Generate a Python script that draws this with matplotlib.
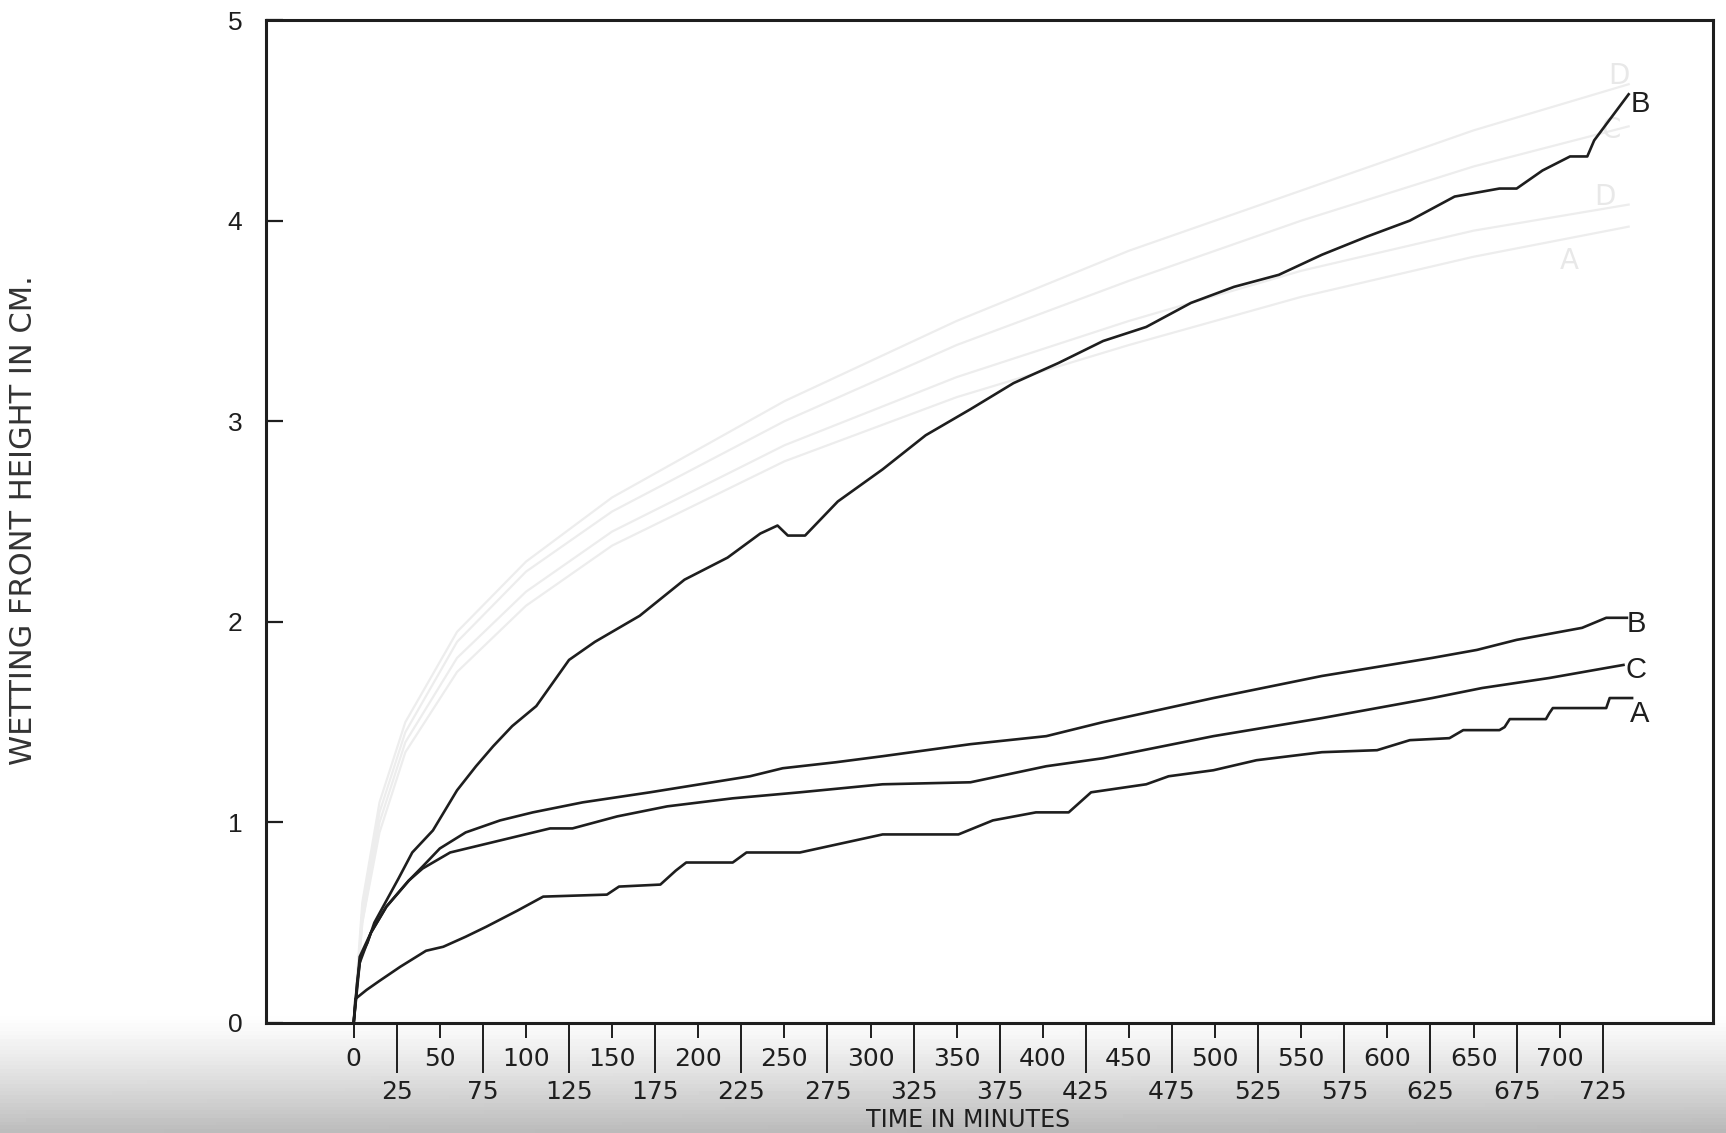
import numpy as np
import matplotlib
matplotlib.use("Agg")
import matplotlib.pyplot as plt

# curve values (time in minutes, height in cm)
t_b_top = [0, 2, 4, 8, 12, 19, 26, 34, 46, 60, 71, 81, 92, 106, 125, 140, 166, 192,
           217, 236, 246, 252, 262, 281, 307, 332, 358, 383, 409, 435, 460, 486, 511,
           537, 562, 588, 613, 639, 665, 675, 690, 706, 716, 720, 740]
y_b_top = [0, 0.2, 0.33, 0.4, 0.5, 0.61, 0.72, 0.85, 0.96, 1.16, 1.28, 1.38, 1.48, 1.58,
           1.81, 1.90, 2.03, 2.21, 2.32, 2.44, 2.48, 2.43, 2.43, 2.60, 2.76, 2.93, 3.06,
           3.19, 3.29, 3.40, 3.47, 3.59, 3.67, 3.73, 3.83, 3.92, 4.00, 4.12, 4.16, 4.16,
           4.25, 4.32, 4.32, 4.40, 4.63]

t_b = [0, 3.5, 10, 19, 32, 40, 50, 65, 85, 104, 133, 172, 201, 230, 249, 280, 307,
       358, 402, 435, 499, 562, 626, 652, 675, 713, 727, 739]
y_b = [0, 0.33, 0.45, 0.58, 0.71, 0.78, 0.87, 0.95, 1.01, 1.05, 1.10, 1.15, 1.19, 1.23,
       1.27, 1.30, 1.33, 1.39, 1.43, 1.50, 1.62, 1.73, 1.82, 1.86, 1.91, 1.97, 2.02, 2.02]

t_c = [0, 3.5, 10, 19, 32, 40, 56, 85, 114, 127, 153, 182, 220, 259, 307, 358, 402,
       435, 499, 562, 626, 655, 694, 727, 737]
y_c = [0, 0.30, 0.45, 0.58, 0.71, 0.77, 0.85, 0.91, 0.97, 0.97, 1.03, 1.08, 1.12, 1.15,
       1.19, 1.20, 1.28, 1.32, 1.43, 1.52, 1.62, 1.67, 1.72, 1.77, 1.785]

t_a = [0, 1, 7.5, 15, 27, 42, 52, 65, 77, 95, 110, 147, 154, 178, 187, 193, 220, 228,
       259, 307, 351, 371, 396, 415, 428, 460, 473, 499, 524, 562, 594, 613, 636, 644,
       665, 668, 671, 692, 694, 696, 727, 729, 742]
y_a = [0, 0.12, 0.165, 0.21, 0.28, 0.36, 0.38, 0.43, 0.48, 0.56, 0.63, 0.64, 0.68, 0.69,
       0.76, 0.80, 0.80, 0.85, 0.85, 0.94, 0.94, 1.01, 1.05, 1.05, 1.15, 1.19, 1.23, 1.26,
       1.31, 1.35, 1.36, 1.41, 1.42, 1.46, 1.46, 1.475, 1.515, 1.515, 1.545, 1.57, 1.57,
       1.62, 1.62]

# faint curves showing through from the back of the page
t_ghost = [0, 5, 15, 30, 60, 100, 150, 250, 350, 450, 550, 650, 740]
y_ghost_d = [0, 0.6, 1.1, 1.5, 1.95, 2.3, 2.62, 3.1, 3.5, 3.85, 4.15, 4.45, 4.68]
y_ghost_c = [0, 0.55, 1.05, 1.45, 1.9, 2.25, 2.55, 3.0, 3.38, 3.7, 4.0, 4.27, 4.47]
y_ghost_b = [0, 0.5, 1.0, 1.4, 1.82, 2.15, 2.45, 2.88, 3.22, 3.5, 3.75, 3.95, 4.08]
y_ghost_a = [0, 0.5, 0.95, 1.35, 1.75, 2.08, 2.38, 2.8, 3.12, 3.38, 3.62, 3.82, 3.97]

major_x = list(range(0, 701, 50))
minor_x = list(range(25, 726, 50))
y_ticks = [0, 1, 2, 3, 4, 5]

ink = "#1e1e1e"
narrow = ["Liberation Sans Narrow", "DejaVu Sans"]

fig = plt.figure(figsize=(17.26, 11.33), dpi=100)

# scanned-page shading at the bottom
bg = fig.add_axes([0, 0, 1, 1], zorder=-5)
rows = np.linspace(0, 1133, 300)
shade = np.ones_like(rows)
m = rows > 1015
shade[m] = 1 - 0.26 * ((rows[m] - 1015) / 118) ** 1.2
cols = np.linspace(1, 0.93, 200)
img = 1 - np.outer(1 - shade, 2 - cols)
bg.imshow(img, cmap="gray", vmin=0, vmax=1, aspect="auto", extent=[0, 1, 0, 1])
bg.set_axis_off()

ax = fig.add_axes([0.154, 0.0971, 0.8385, 0.8852])
ax.set_facecolor("none")
ax.set_xlim(-51, 789)
ax.set_ylim(0, 5)

for yy, lab, x_lab, y_lab in [(y_ghost_d, "D", 728, 4.72), (y_ghost_c, "C", 724, 4.45),
                              (y_ghost_b, "D", 720, 4.12), (y_ghost_a, "A", 700, 3.8)]:
    ax.plot(t_ghost, yy, color="#ededed", lw=1.6, zorder=1)
    ax.text(x_lab, y_lab, lab, color="#e8e8e8", fontsize=20, ha="left", va="center")

for tt, yy in [(t_b_top, y_b_top), (t_b, y_b), (t_c, y_c), (t_a, y_a)]:
    ax.plot(tt, yy, color=ink, lw=1.9, zorder=3)

lab_font = dict(fontsize=21, color=ink, family="Liberation Sans", va="center", ha="left")
ax.text(741, 4.58, "B", **lab_font)
ax.text(739, 1.99, "B", **lab_font)
ax.text(738, 1.76, "C", **lab_font)
ax.text(741, 1.54, "A", **lab_font)

for side in ["left", "right", "top", "bottom"]:
    ax.spines[side].set_linewidth(2.2)
    ax.spines[side].set_color(ink)

ax.set_xticks(major_x)
ax.set_xticklabels([str(v) for v in major_x], family=narrow, fontsize=18, color=ink)
ax.set_xticks(minor_x, minor=True)
ax.set_xticklabels([str(v) for v in minor_x], minor=True, family=narrow, fontsize=18, color=ink)
ax.tick_params(axis="x", which="major", direction="out", length=11, width=1.4, pad=6, colors=ink)
ax.tick_params(axis="x", which="minor", direction="out", length=36, width=1.4, pad=5, colors=ink)

ax.set_yticks(y_ticks)
ax.set_yticklabels([str(v) for v in y_ticks], family="Liberation Sans", fontsize=19, color=ink)
ax.tick_params(axis="y", direction="in", length=12, width=1.6, pad=17, colors=ink)

fig.text(0.561, 0.0115, "TIME IN MINUTES", family=narrow, fontsize=17, color=ink,
         ha="center", va="center")
fig.text(24 / 1726, 0.541, "WETTING FRONT HEIGHT IN CM.", family="DejaVu Sans", fontsize=22,
         color="#333333", rotation=90, ha="center", va="center")

fig.savefig("out.png", dpi=100)
